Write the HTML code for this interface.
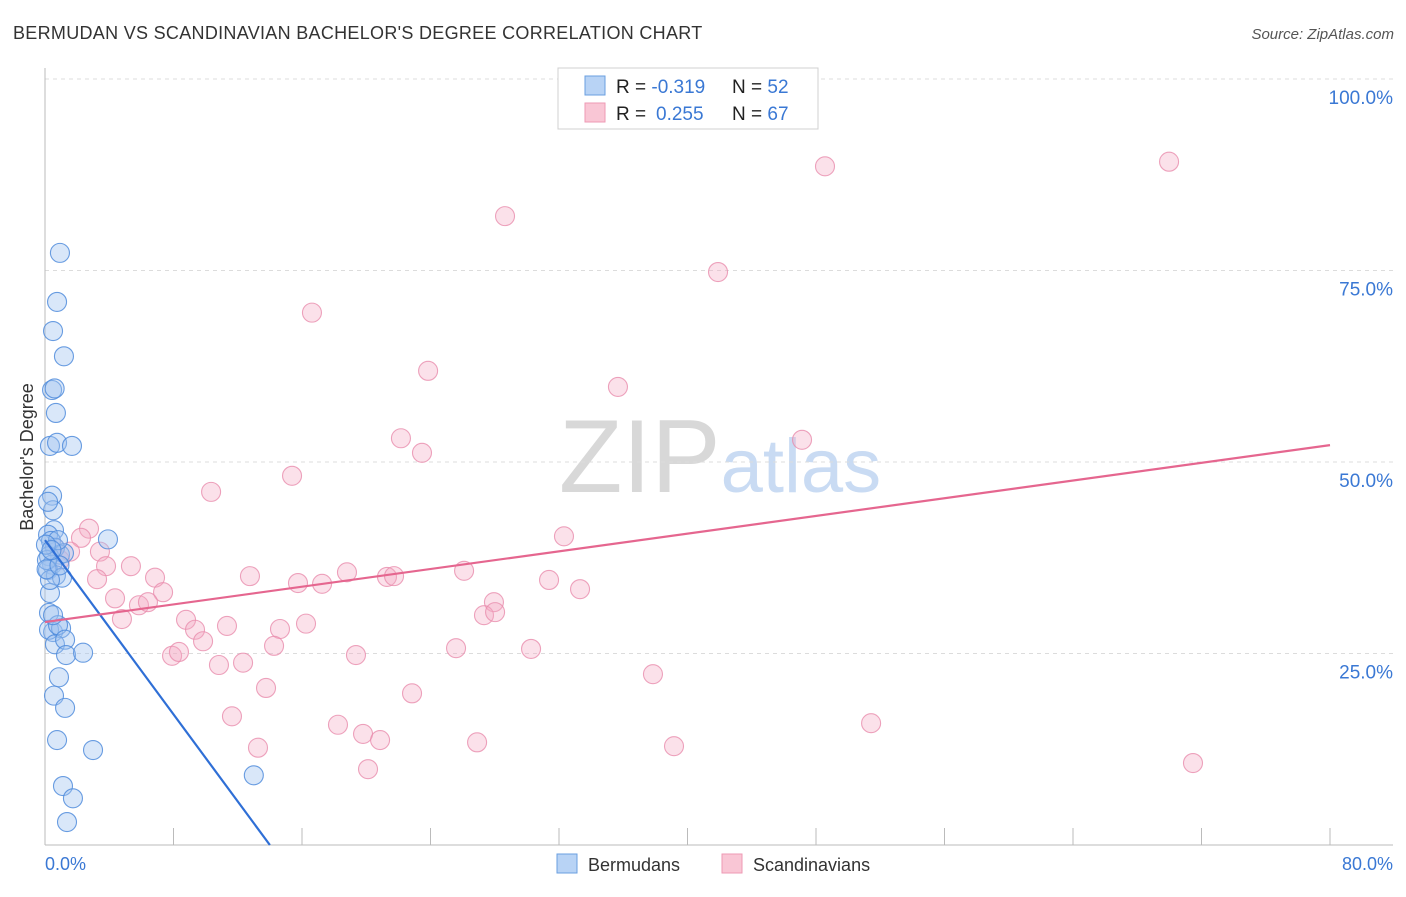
<!DOCTYPE html>
<html><head><meta charset="utf-8"><style>
body{margin:0;background:#fff;font-family:"Liberation Sans",sans-serif;}
svg text{font-family:"Liberation Sans",sans-serif;}
</style></head><body>
<svg id="chart" width="1406" height="892" xmlns="http://www.w3.org/2000/svg">
<text x="13" y="39" font-size="18" fill="#333" letter-spacing="0.3">BERMUDAN VS SCANDINAVIAN BACHELOR'S DEGREE CORRELATION CHART</text>
<text x="1394" y="39" font-size="15" fill="#555" text-anchor="end" font-style="italic">Source: ZipAtlas.com</text>
<text x="720" y="492" font-size="104" text-anchor="middle" fill="#d8d8d8" font-family="Liberation Serif">ZIP<tspan fill="#c9dbf3" font-family="Liberation Sans" font-size="76">atlas</tspan></text>
<g id="grid"></g>
<g id="axes"></g>
<g id="pts"></g>
<g id="lines"></g>
<text transform="translate(33,457) rotate(-90)" font-size="18" fill="#333" text-anchor="middle">Bachelor's Degree</text>
<text x="45" y="870" font-size="18" fill="#3a78d4">0.0%</text>
<text x="1393" y="870" font-size="18" fill="#3a78d4" text-anchor="end">80.0%</text>
<g>
<rect x="558" y="68" width="260" height="61" fill="#fff" stroke="#d0d0d0"/>
<rect x="585" y="76" width="20" height="19" fill="#b8d3f5" stroke="#6a9fe0"/>
<rect x="585" y="103" width="20" height="19" fill="#f9c6d5" stroke="#ee9ab4"/>
<text x="616" y="93" font-size="19" fill="#222">R = <tspan fill="#3a78d4">-0.319</tspan><tspan x="732">N = </tspan><tspan fill="#3a78d4">52</tspan></text>
<text x="616" y="120" font-size="19" fill="#222">R = <tspan fill="#3a78d4" x="656">0.255</tspan><tspan x="732">N = </tspan><tspan fill="#3a78d4">67</tspan></text>
</g>
<g>
<rect x="557" y="854" width="20" height="19" fill="#b8d3f5" stroke="#6a9fe0"/>
<text x="588" y="871" font-size="18" fill="#333">Bermudans</text>
<rect x="722" y="854" width="20" height="19" fill="#f9c6d5" stroke="#ee9ab4"/>
<text x="753" y="871" font-size="18" fill="#333">Scandinavians</text>
</g>
</svg>
<script>
const yTicks=[25,50,75,100];
const yTickLabels=["25.0%","50.0%","75.0%","100.0%"];
const xTicks=[8,16,24,32,40,48,56,64,72,80];
const blueX=[0.93,0.75,0.5,1.18,0.44,0.6,0.68,0.31,0.75,1.68,0.44,0.5,0.19,0.56,0.19,0.37,0.62,0.93,3.92,0.25,0.44,0.19,0.68,1.06,1.18,0.81,0.31,0.25,0.5,0.25,1.0,0.81,0.62,1.25,1.31,2.37,0.87,0.56,1.25,0.75,2.99,1.12,1.74,1.37,13.0,0.12,0.06,0.31,0.5,0.1,0.9,0.4];
const blueY=[77.3,70.9,67.1,63.8,59.4,59.6,56.4,52.1,52.5,52.1,45.6,43.7,44.8,41.1,40.5,39.7,38.8,37.9,39.9,37.7,36.6,35.9,35.2,34.9,38.1,39.8,32.9,30.3,27.8,28.1,28.3,28.7,26.2,26.8,24.8,25.1,21.9,19.5,17.9,13.7,12.4,7.7,6.1,3.0,9.1,37.2,39.2,34.6,30.0,36.0,36.5,38.5];
const pinkX=[28.64,48.56,69.98,41.9,16.62,23.85,35.67,22.16,47.13,23.47,15.38,10.34,32.31,2.74,2.24,3.42,3.8,5.35,3.24,6.85,7.35,5.85,4.36,6.41,4.79,12.76,8.78,9.34,9.84,11.33,15.75,17.25,18.8,21.29,21.73,26.09,31.38,33.31,27.95,27.33,28.02,14.63,16.25,14.26,25.59,30.26,19.36,7.91,8.34,10.83,12.33,13.76,22.85,37.85,11.64,18.24,19.8,20.86,26.9,13.26,39.16,51.43,20.11,71.47,0.93,1.56,0.62];
const pinkY=[82.1,88.6,89.2,74.8,69.5,61.9,59.8,53.1,52.9,51.2,48.2,46.1,40.3,41.3,40.1,38.3,36.4,36.4,34.7,34.9,33.0,31.3,32.2,31.7,29.5,35.1,29.4,28.1,26.6,28.6,34.2,34.1,35.6,35.0,35.1,35.8,34.6,33.4,31.7,30.0,30.4,28.2,28.9,26.0,25.7,25.6,24.8,24.7,25.2,23.5,23.8,20.5,19.8,22.3,16.8,15.7,14.5,13.7,13.4,12.7,12.9,15.9,9.9,10.7,37.2,38.3,38.8];
const blueLine=[[0,39.8],[14.0,0]];
const pinkLine=[[0,29.1],[80,52.2]];
const NS="http://www.w3.org/2000/svg";
const X0=45,X1=1330,Y0=845,Y100=79;
function sx(v){return X0+(X1-X0)*v/80;}
function sy(v){return Y0-(Y0-Y100)*v/100;}
function mk(tag,attrs,parent){const e=document.createElementNS(NS,tag);for(const k in attrs)e.setAttribute(k,attrs[k]);parent.appendChild(e);return e;}
const grid=document.getElementById('grid');
yTicks.forEach((t,i)=>{
  const l=mk('line',{x1:45,x2:1393,y1:sy(t),y2:sy(t),stroke:'#dcdcdc','stroke-dasharray':'4,4'},grid);
  
  
  const tx=mk('text',{x:1393,y:sy(t)+25,'font-size':19,fill:'#3a78d4','text-anchor':'end'},grid);
  tx.textContent=yTickLabels[i];
  
  
});
const axes=document.getElementById('axes');
const ya=mk('line',{x1:45,x2:45,y1:68,y2:845,stroke:'#bbb'},axes);


const xa=mk('line',{x1:45,x2:1393,y1:845,y2:845,stroke:'#bbb'},axes);


xTicks.forEach(t=>{
  const l=mk('line',{x1:sx(t),x2:sx(t),y1:828,y2:845,stroke:'#bbb'},axes);
  
  
});
const pts=document.getElementById('pts');
pinkX.forEach((x,i)=>{
  const c=mk('circle',{cx:sx(x),cy:sy(pinkY[i]),r:9.5,fill:'rgba(244,170,195,0.35)',stroke:'rgba(232,140,172,0.8)','stroke-width':1.1},pts);
  
  
});
blueX.forEach((x,i)=>{
  const c=mk('circle',{cx:sx(x),cy:sy(blueY[i]),r:9.5,fill:'rgba(160,195,240,0.4)',stroke:'rgba(80,140,220,0.85)','stroke-width':1.1},pts);
  
  
});
const lines=document.getElementById('lines');
const bl=mk('line',{x1:sx(blueLine[0][0]),y1:sy(blueLine[0][1]),x2:sx(blueLine[1][0]),y2:sy(blueLine[1][1]),stroke:'#2f6fd6','stroke-width':2.2},lines);


const pl=mk('line',{x1:sx(pinkLine[0][0]),y1:sy(pinkLine[0][1]),x2:sx(pinkLine[1][0]),y2:sy(pinkLine[1][1]),stroke:'#e5668f','stroke-width':2.2},lines);


</script>
</body></html>
